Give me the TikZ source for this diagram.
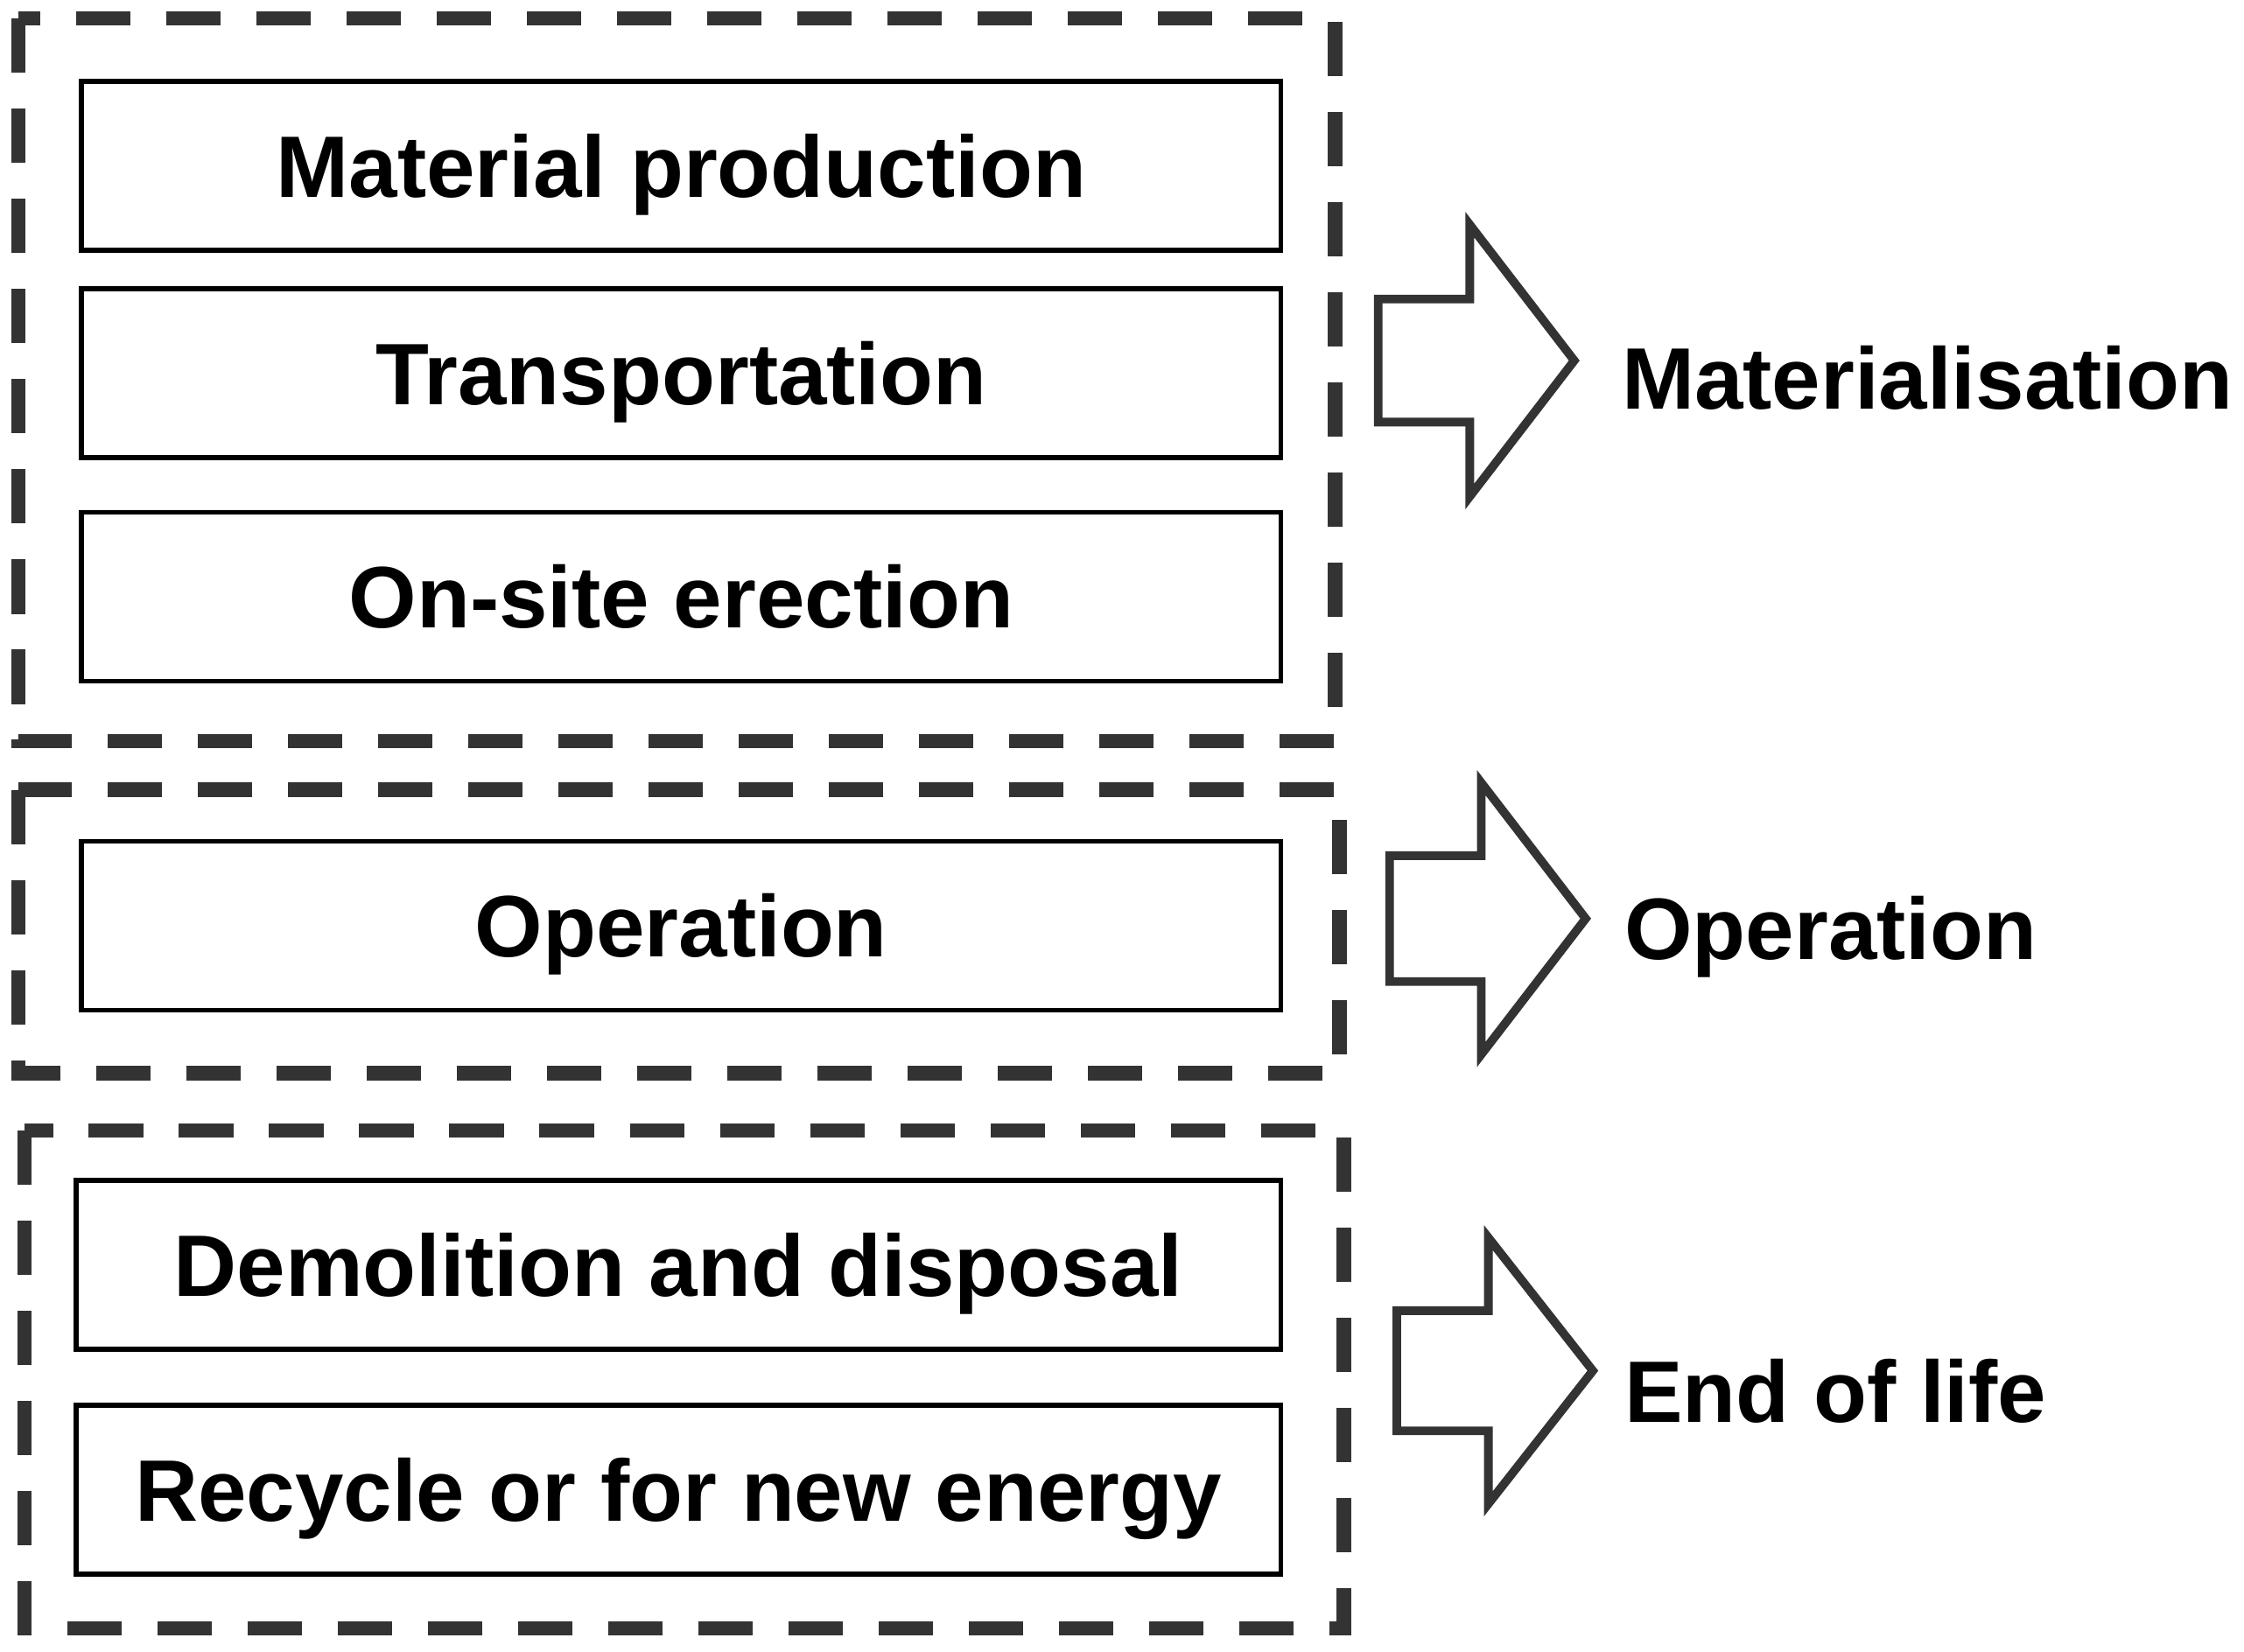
\documentclass[tikz,border=0pt]{standalone}
\usepackage{fontspec}
\setmainfont{Liberation Sans}
\begin{document}
\begin{tikzpicture}[x=1pt,y=-1pt,
  box/.style={draw=black,line width=3.5pt},
  grp/.style={draw=black!80,line width=10pt,dash pattern=on 38pt off 25pt},
  arr/.style={draw=black!80,line width=6pt,line join=miter},
  txt/.style={font=\fontsize{61}{72}\selectfont\bfseries}]
\useasboundingbox (0,0) rectangle (1568,1154);
\draw[grp] (13,13) rectangle (933,518);
\draw[grp] (13,552) rectangle (936,750);
\draw[grp] (17,790) rectangle (939,1138);
\begin{scope}[every node/.append style={text depth=0pt,text height=44pt}]
\node[box,minimum width=838pt,minimum height=118pt,txt] (mp) at (476,116) {Material production};
\node[box,minimum width=838pt,minimum height=118pt,txt] (tr) at (476,261) {Transportation};
\node[box,minimum width=838pt,minimum height=118pt,txt] (os) at (476,417) {On-site erection};
\node[box,minimum width=838pt,minimum height=118pt,txt] (op) at (476,647) {Operation};
\node[box,minimum width=842pt,minimum height=118pt,txt] (dd) at (474,884) {Demolition and disposal};
\node[box,minimum width=842pt,minimum height=118pt,txt] (rc) at (474,1041) {Recycle or for new energy};
\end{scope}
\draw[arr] (963,209) -- (1027,209) -- (1027,157) -- (1100,252) -- (1027,347) -- (1027,295) -- (963,295) -- cycle;
\draw[arr] (971,598) -- (1035,598) -- (1035,547) -- (1108,642) -- (1035,737) -- (1035,686) -- (971,686) -- cycle;
\draw[arr] (976,916) -- (1040,916) -- (1040,865) -- (1113,958) -- (1040,1051) -- (1040,1000) -- (976,1000) -- cycle;
\node[txt,anchor=west,inner sep=0pt] (l1) at (1133,264) {Materialisation};
\node[txt,anchor=west,inner sep=0pt] (l2) at (1135,655) {Operation};
\node[txt,anchor=west,inner sep=0pt] (l3) at (1135,972) {End of life};
\end{tikzpicture}
\end{document}
